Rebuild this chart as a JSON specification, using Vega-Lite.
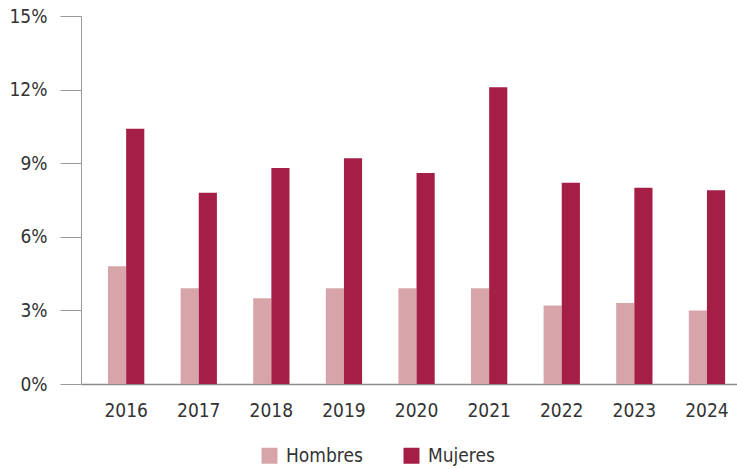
{
  "$schema": "https://vega.github.io/schema/vega-lite/v6.json",
  "width": 656,
  "height": 368,
  "autosize": {"type": "none"},
  "padding": {"left": 81, "top": 16, "right": 0, "bottom": 85},
  "background": "white",
  "config": {
    "view": {"stroke": null},
    "font": "Liberation Sans Narrow, DejaVu Sans Condensed, sans-serif"
  },
  "data": {
    "values": [
      {"year": "2016", "sex": "Hombres", "value": 4.8},
      {"year": "2016", "sex": "Mujeres", "value": 10.4},
      {"year": "2017", "sex": "Hombres", "value": 3.9},
      {"year": "2017", "sex": "Mujeres", "value": 7.8},
      {"year": "2018", "sex": "Hombres", "value": 3.5},
      {"year": "2018", "sex": "Mujeres", "value": 8.8},
      {"year": "2019", "sex": "Hombres", "value": 3.9},
      {"year": "2019", "sex": "Mujeres", "value": 9.2},
      {"year": "2020", "sex": "Hombres", "value": 3.9},
      {"year": "2020", "sex": "Mujeres", "value": 8.6},
      {"year": "2021", "sex": "Hombres", "value": 3.9},
      {"year": "2021", "sex": "Mujeres", "value": 12.1},
      {"year": "2022", "sex": "Hombres", "value": 3.2},
      {"year": "2022", "sex": "Mujeres", "value": 8.2},
      {"year": "2023", "sex": "Hombres", "value": 3.3},
      {"year": "2023", "sex": "Mujeres", "value": 8.0},
      {"year": "2024", "sex": "Hombres", "value": 3.0},
      {"year": "2024", "sex": "Mujeres", "value": 7.9}
    ]
  },
  "mark": {"type": "bar"},
  "encoding": {
    "x": {
      "field": "year",
      "type": "nominal",
      "scale": {"paddingInner": 0.5, "paddingOuter": 0.268, "align": 0.694},
      "axis": {
        "title": null,
        "labelAngle": 0,
        "ticks": false,
        "domainColor": "#8a8a8a",
        "domainWidth": 1.5,
        "labelFontSize": 19,
        "labelColor": "#333333",
        "labelPadding": 17,
        "labelBaseline": "top"
      }
    },
    "xOffset": {
      "field": "sex",
      "type": "nominal",
      "scale": {"paddingInner": 0, "paddingOuter": 0}
    },
    "y": {
      "field": "value",
      "type": "quantitative",
      "scale": {"domain": [0, 15], "nice": false},
      "axis": {
        "title": null,
        "values": [0, 3, 6, 9, 12, 15],
        "labelExpr": "datum.value + '%'",
        "grid": false,
        "tickSize": 21,
        "tickColor": "#999999",
        "domainColor": "#999999",
        "labelFontSize": 19,
        "labelColor": "#333333",
        "labelPadding": 13
      }
    },
    "color": {
      "field": "sex",
      "type": "nominal",
      "scale": {"domain": ["Hombres", "Mujeres"], "range": ["#d7a5a9", "#a41e45"]},
      "legend": {
        "title": null,
        "orient": "none",
        "direction": "horizontal",
        "legendX": 179,
        "legendY": 430,
        "symbolType": "square",
        "symbolSize": 256,
        "symbolStrokeWidth": 0,
        "labelFontSize": 19,
        "labelColor": "#333333",
        "labelOffset": 7,
        "columnPadding": 39
      }
    }
  }
}
